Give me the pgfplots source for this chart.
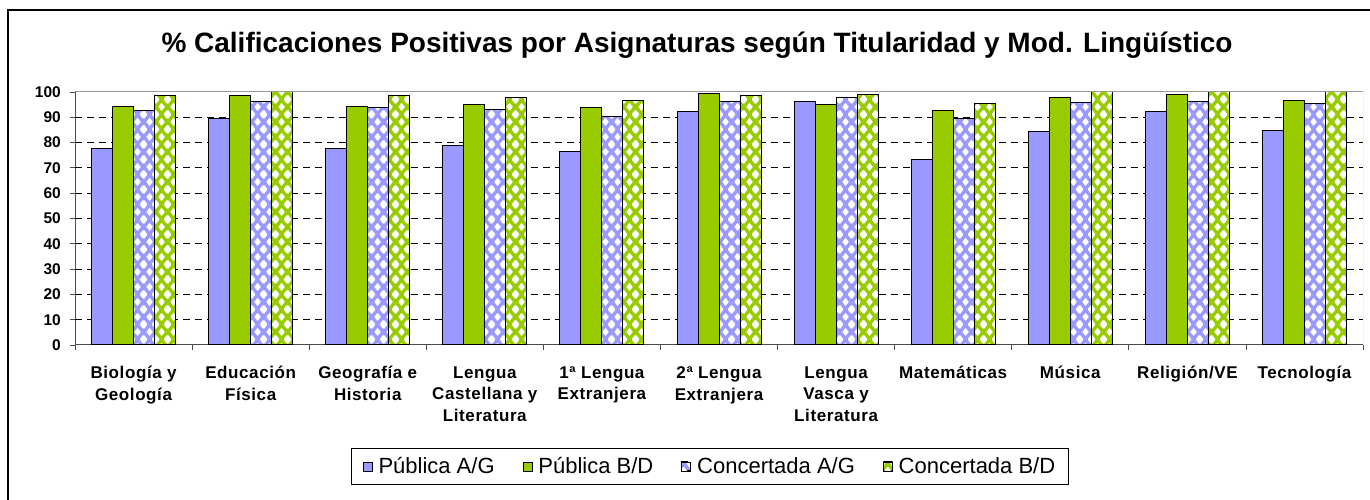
\documentclass[border=0pt]{standalone}
\usepackage{fontspec}
\setmainfont{Liberation Sans}
\newfontfamily\lblfont[LetterSpace=3.5]{Liberation Sans}
\usepackage{pgfplots}
\pgfplotsset{compat=1.18}
\usepackage{pgfplotstable}
\usetikzlibrary{patterns}
\definecolor{lav}{HTML}{9999FF}
\definecolor{grn}{HTML}{99CC00}
\newcommand\dm[2]{%
  \pgfpathmoveto{\pgfpoint{#1-3.5bp}{#2}}%
  \pgfpathlineto{\pgfpoint{#1}{#2+4.2bp}}%
  \pgfpathlineto{\pgfpoint{#1+3.5bp}{#2}}%
  \pgfpathlineto{\pgfpoint{#1}{#2-4.2bp}}%
  \pgfpathclose}
\pgfdeclarepatternformonly{wdiam}{\pgfpointorigin}{\pgfpoint{12bp}{14.6bp}}{\pgfpoint{12bp}{14.6bp}}{%
  \dm{0bp}{0bp}\dm{12bp}{0bp}\dm{0bp}{14.6bp}\dm{12bp}{14.6bp}\dm{6bp}{7.3bp}%
  \pgfusepath{fill}}

\pgfplotstableread{
x PubAG PubBD ConcAG ConcBD
0 77.8 94.2 92.6 98.6
1 89.5 98.6 96.3 100
2 77.8 94.2 93.7 98.6
3 78.9 94.9 93.2 98.0
4 76.3 93.7 90.5 96.8
5 92.1 99.6 96.3 98.6
6 96.3 94.9 98.0 99.1
7 73.2 92.6 89.5 95.3
8 84.2 98.0 95.8 100
9 92.1 99.1 96.3 100
10 84.6 96.8 95.3 100
}\datatable

\begin{document}
\begin{tikzpicture}[x=1bp,y=1bp]
\draw[line width=1.5bp] (8,-5) -- (8,490) -- (1375,490);
\node[font=\fontsize{28bp}{32bp}\selectfont\bfseries, anchor=base, inner sep=0pt] at (697,447)
  {\% Calificaciones Positivas por Asignaturas según Titularidad y Mod. Lingüístico};
\begin{axis}[at={(75bp,155bp)}, anchor=south west,
  width=1288bp, height=253bp, scale only axis,
  ybar=0pt, bar width=21bp,
  xmin=-0.5, xmax=10.5, ymin=0, ymax=100,
  axis x line*=bottom, axis y line*=left,
  axis line style={draw=black!70, line width=1bp},
  tick align=outside, major tick length=5bp,
  tick style={draw=black!70, line width=0.8bp},
  ytick={0,10,...,100},
  yticklabel style={font=\fontsize{15.5bp}{18bp}\selectfont\bfseries, inner sep=2bp, xshift=-7bp},
  /pgf/number format/assume math mode=true,
  xtick={-0.5,0.5,1.5,2.5,3.5,4.5,5.5,6.5,7.5,8.5,9.5,10.5},
  x tick label as interval,
  xticklabels={{Biología y\\Geología},{Educación\\Física},{Geografía e\\Historia},
    {Lengua\\Castellana y\\Literatura},{1ª Lengua\\Extranjera},{2ª Lengua\\Extranjera},
    {Lengua\\Vasca y\\Literatura},{Matemáticas},{Música},{Religión/VE},{Tecnología}},
  xticklabel style={font=\lblfont\fontsize{17bp}{21.7bp}\selectfont\bfseries, align=center, anchor=north, yshift=-13bp},
  extra y ticks={10,20,...,90}, extra y tick labels={},
  extra y tick style={grid=major, major tick length=0pt,
    major grid style={draw=black, line width=0.9bp, dash pattern=on 7bp off 5bp}},
  legend columns=4,
  legend style={at={(0.493,-0.480)}, anchor=center, draw=black, line width=1bp,
    font=\fontsize{22bp}{26bp}\selectfont, inner xsep=11bp, inner ysep=7bp,
    /tikz/every even column/.append style={column sep=26bp},
    /tikz/every odd column/.append style={column sep=4bp}},
  legend image code/.code={\draw[#1, line width=0.8bp] (0bp,-4.5bp) rectangle (9bp,4.5bp);},
]
\addplot[draw=black, line width=1bp, fill=lav] table[x=x, y=PubAG] {\datatable};
\addplot[draw=black, line width=1bp, fill=grn] table[x=x, y=PubBD] {\datatable};
\addplot[draw=black, line width=1bp, preaction={fill=lav}, pattern=wdiam, pattern color=white] table[x=x, y=ConcAG] {\datatable};
\addplot[draw=black, line width=1bp, preaction={fill=grn}, pattern=wdiam, pattern color=white] table[x=x, y=ConcBD] {\datatable};
\legend{Pública A/G, Pública B/D, Concertada A/G, Concertada B/D}
\draw[draw=black!40, line width=1bp] (rel axis cs:0,1) -- (rel axis cs:1,1) -- (rel axis cs:1,0);
\end{axis}
\pgfresetboundingbox
\path[use as bounding box] (0,0) rectangle (1370,500);
\end{tikzpicture}
\end{document}
